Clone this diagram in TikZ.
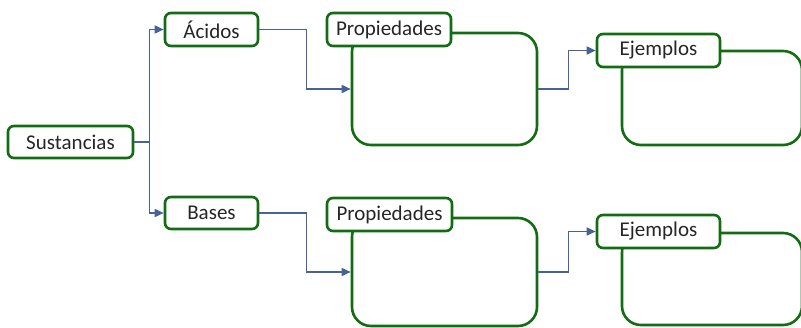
\documentclass[tikz,border=0pt]{standalone}
\usepackage{fontspec}
\setmainfont{Carlito}
\usepackage{tikz}
\usetikzlibrary{arrows.meta}

\definecolor{boxgreen}{RGB}{18,108,18}
\definecolor{linkblue}{RGB}{70,98,150}

\begin{document}
\begin{tikzpicture} [x=1pt, y=-1pt,
  tab/.style = {draw=boxgreen, line width=2.6pt, rounded corners=6pt, fill=white,
                text=black!85, font=\fontsize{21}{25}\selectfont, inner sep=0pt,
                minimum height=33pt},
  big/.style = {draw=boxgreen, line width=2.6pt, rounded corners=19pt, fill=white, inner sep=0pt},
  link/.style = {draw=linkblue, line width=1.6pt, -{Triangle[length=9pt,width=8pt]}}]
\useasboundingbox (0,0) rectangle (801,327);
\clip (0,0) rectangle (801,327);
\node[big, minimum width=185pt, minimum height=112pt](pb1) at (444.5,89) {};
\node[big, minimum width=185pt, minimum height=108pt](pb2) at (444.5,272) {};
\node[big, minimum width=180pt, minimum height=94pt](eb1) at (712,98) {};
\node[big, minimum width=180pt, minimum height=92pt](eb2) at (712,279) {};
\node[tab, minimum width=125pt, minimum height=32pt](sust) at (70.5,142) {Sustancias};
\node[tab, minimum width=93pt](acid) at (211.5,29.5) {Ácidos};
\node[tab, minimum width=93pt, minimum height=32pt](base) at (211.5,213) {Bases};
\node[tab, minimum width=124pt](prop1) at (389,29.5) {Propiedades};
\node[tab, minimum width=125pt](prop2) at (389.5,214.5) {Propiedades};
\node[tab, minimum width=123pt](ej1) at (658.5,50.5) {Ejemplos};
\node[tab, minimum width=123pt](ej2) at (658.5,231.5) {Ejemplos};
\draw[link] (sust.east) -- ++(15,0) |- (acid.west);
\draw[link] (sust.east) -- ++(15,0) |- (base.west);
\draw[link] (acid.east) -- ++(47,0) |- (pb1.west);
\draw[link] (base.east) -- ++(47,0) |- (pb2.west);
\draw[link] (pb1.east) -- ++(30,0) |- (ej1.west);
\draw[link] (pb2.east) -- ++(30,0) |- (ej2.west);
\end{tikzpicture}
\end{document}
